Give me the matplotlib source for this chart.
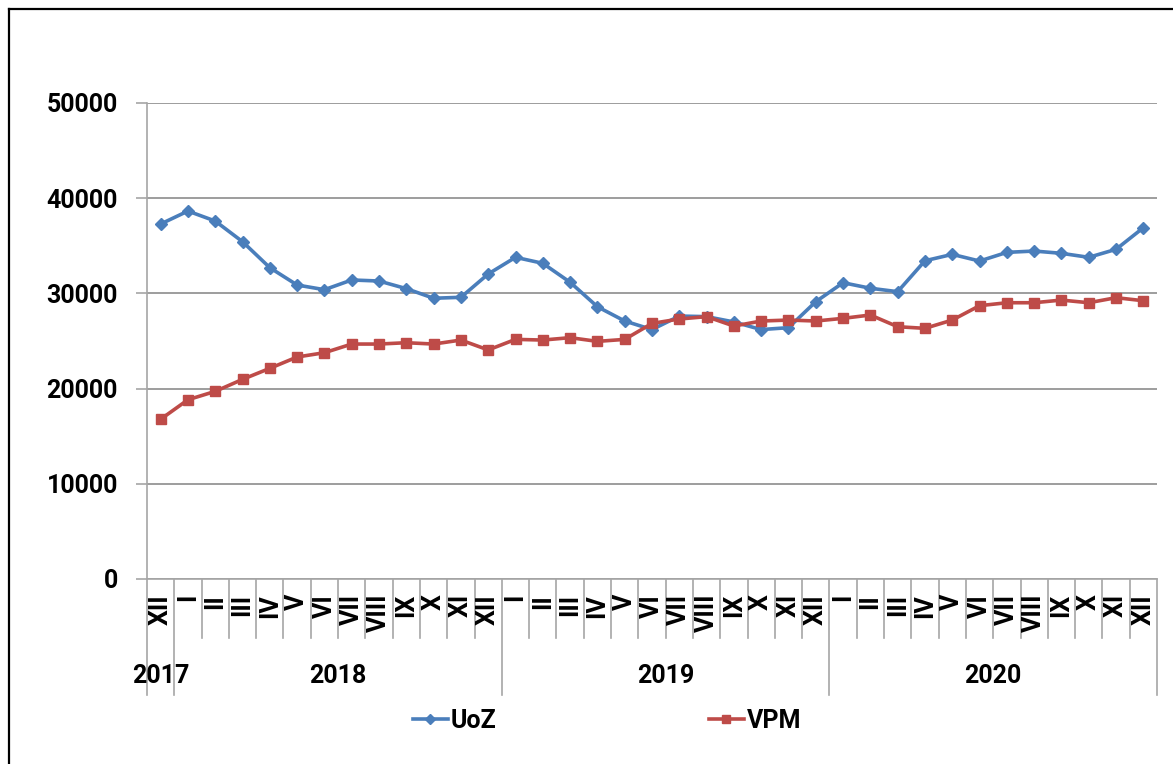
import matplotlib
matplotlib.use("Agg")
import matplotlib.pyplot as plt
from matplotlib.lines import Line2D

months = ["XII", "I", "II", "III", "IV", "V", "VI", "VII", "VIII", "IX", "X", "XI", "XII",
          "I", "II", "III", "IV", "V", "VI", "VII", "VIII", "IX", "X", "XI", "XII",
          "I", "II", "III", "IV", "V", "VI", "VII", "VIII", "IX", "X", "XI", "XII"]
years = ["2017", "2018", "2019", "2020"]
year_spans = [(0, 0), (1, 12), (13, 24), (25, 36)]

uoz = [37290, 38650, 37600, 35430, 32700, 30880, 30390, 31410, 31300, 30500, 29490, 29590, 32040,
       33790, 33160, 31170, 28600, 27100, 26200, 27620, 27560, 27000, 26200, 26400, 29130,
       31120, 30540, 30180, 33430, 34100, 33400, 34310, 34450, 34210, 33790, 34630, 36900]
vpm = [16780, 18830, 19710, 20970, 22130, 23320, 23770, 24680, 24680, 24820, 24680, 25100, 24060,
       25170, 25100, 25350, 24960, 25170, 26850, 27310, 27560, 26570, 27100, 27200, 27100,
       27380, 27730, 26500, 26330, 27200, 28710, 29020, 29020, 29300, 29020, 29550, 29230]

FONT = "Roboto"
FS = 18
plt.rcParams['font.family'] = [FONT, 'DejaVu Sans']

W, H = 1173, 764
fig = plt.figure(figsize=(W / 100, H / 100), dpi=100)
ax = fig.add_axes([147 / W, 1 - 579 / H, (1157 - 147) / W, (579 - 103) / H])

x = list(range(len(months)))
blue = "#4A7EBB"
red = "#BE4B48"
ax.plot(x, uoz, color=blue, lw=2.6, marker="D", ms=6.5, mfc=blue, mec=blue, label="UoZ", zorder=3)
ax.plot(x, vpm, color=red, lw=2.6, marker="s", ms=6.5, mfc=red, mec=red, label="VPM", zorder=4)

ax.set_xlim(-0.5, len(months) - 0.5)
ax.set_ylim(0, 50000)
ax.set_yticks(range(0, 50001, 10000))
ax.grid(axis="y", color="#8c8c8c", lw=1.2)
ax.set_axisbelow(True)
for s in ["top", "right"]:
    ax.spines[s].set_visible(False)
ax.spines["left"].set_color("#a6a6a6")
ax.spines["left"].set_linewidth(1.2)
ax.spines["bottom"].set_color("#a6a6a6")
ax.spines["bottom"].set_linewidth(1.2)
ax.tick_params(axis="y", length=8, width=1.2, color="#a6a6a6", pad=13,
               labelsize=FS)
for lab in ax.get_yticklabels():
    lab.set_fontweight("bold")
ax.set_xticks([])

tr = ax.get_xaxis_transform()
axh = 579 - 103
# category separators
year_bounds = {-0.5, 0.5, 12.5, 24.5, 36.5}
for i in range(len(months) + 1):
    b = i - 0.5
    y1 = -(695 - 579) / axh if b in year_bounds else -(638 - 579) / axh
    ax.plot([b, b], [0, y1], transform=tr, color="#a6a6a6", lw=1.2, clip_on=False)

for i, m in enumerate(months):
    ax.text(i, -(594 - 579) / axh, m, transform=tr, rotation=90, ha="center", va="top",
            fontsize=FS, fontweight="bold")

for yl, (a, b) in zip(years, year_spans):
    ax.text((a + b) / 2, -(676 - 579) / axh, yl, transform=tr, ha="center", va="center",
            fontsize=FS, fontweight="bold")

handles = [Line2D([], [], color=blue, lw=2.6, marker="D", ms=5),
           Line2D([], [], color=red, lw=2.6, marker="s", ms=5.5)]
leg = fig.legend(handles, ["UoZ", "VPM"], loc="center", bbox_to_anchor=(607 / W, 1 - 721 / H),
                 ncol=2, frameon=False, handlelength=1.4, handletextpad=0.12,
                 columnspacing=8.5, prop={"family": FONT, "weight": "bold", "size": FS})

fig.add_artist(Line2D([9 / W, 9 / W], [0, 1 - 8.5 / H], transform=fig.transFigure, color="black", lw=1.6))
fig.add_artist(Line2D([9 / W, 1], [1 - 8.5 / H, 1 - 8.5 / H], transform=fig.transFigure, color="black", lw=1.6))

fig.savefig("out.png", dpi=100)
